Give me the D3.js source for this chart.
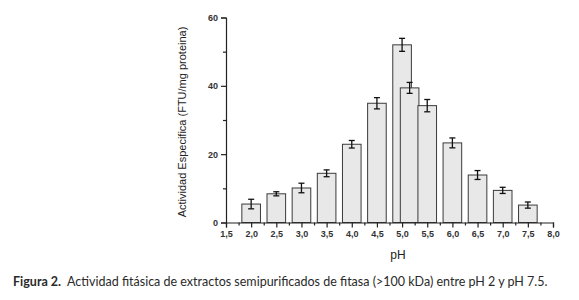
<!DOCTYPE html>
<html>
<head>
<meta charset="utf-8">
<script src="https://cdn.jsdelivr.net/npm/d3@7"></script>
<style>
  body { margin: 0; background: #fff; }
  svg { display: block; }
</style>
</head>
<body>
<div id="chart"></div>
<script>
// data
const phValues = [2.0, 2.5, 3.0, 3.5, 4.0, 4.5, 5.0, 5.15, 5.5, 6.0, 6.5, 7.0, 7.5]
const activity = [5.4, 8.4, 10.1, 14.4, 22.9, 34.9, 52.0, 39.4, 34.2, 23.3, 13.9, 9.4, 5.1]
const errors   = [1.4, 0.6, 1.4, 1.0, 1.1, 1.65, 1.9, 1.6, 1.8, 1.45, 1.3, 0.9, 0.9]
const xTicks = [1.5, 2.0, 2.5, 3.0, 3.5, 4.0, 4.5, 5.0, 5.5, 6.0, 6.5, 7.0, 7.5, 8.0]
const yTicks = [0, 20, 40, 60]
const yMinor = [10, 30, 50]

const dataset = phValues.map((p, i) => ({ ph: p, val: activity[i], err: errors[i] }))

let dims = {
    width: 579,
    height: 300,
    margin: { top: 17.5, right: 26, bottom: 77.5, left: 226 },
}
dims.boundedWidth = dims.width - dims.margin.left - dims.margin.right
dims.boundedHeight = dims.height - dims.margin.top - dims.margin.bottom

const xScale = d3.scaleLinear()
    .domain([1.5, 8.0])
    .range([0, dims.boundedWidth])

const yScale = d3.scaleLinear()
    .domain([0, 60])
    .range([dims.boundedHeight, 0])

const barW = xScale(1.5 + 0.37) - xScale(1.5)

const svg = d3.select("#chart")
    .append("svg")
    .attr("width", dims.width)
    .attr("height", dims.height)

const bounds = svg.append("g")
    .attr("transform", `translate(${dims.margin.left},${dims.margin.top})`)

// bars
bounds.selectAll("rect.bar")
    .data(dataset)
    .join("rect")
    .attr("class", "bar")
    .attr("x", d => xScale(d.ph) - barW / 2)
    .attr("y", d => yScale(d.val))
    .attr("width", barW)
    .attr("height", d => yScale(0) - yScale(d.val))
    .attr("fill", "#e8e8e8")
    .attr("stroke", "#3a3a3a")
    .attr("stroke-width", 1)

// error bars
const errG = bounds.selectAll("g.err")
    .data(dataset)
    .join("g")
    .attr("class", "err")
    .attr("stroke", "#111")
    .attr("stroke-width", 1.3)

errG.append("line")
    .attr("x1", d => xScale(d.ph)).attr("x2", d => xScale(d.ph))
    .attr("y1", d => yScale(d.val + d.err)).attr("y2", d => yScale(d.val - d.err))
errG.append("line")
    .attr("x1", d => xScale(d.ph) - 3).attr("x2", d => xScale(d.ph) + 3)
    .attr("y1", d => yScale(d.val + d.err)).attr("y2", d => yScale(d.val + d.err))
errG.append("line")
    .attr("x1", d => xScale(d.ph) - 3).attr("x2", d => xScale(d.ph) + 3)
    .attr("y1", d => yScale(d.val - d.err)).attr("y2", d => yScale(d.val - d.err))

// axes
const fmt = d => d.toFixed(1).replace(".", ",")

const xAxis = bounds.append("g")
    .attr("transform", `translate(0,${dims.boundedHeight})`)
    .call(d3.axisBottom(xScale).tickValues(xTicks).tickFormat(fmt).tickSize(5).tickPadding(3))
xAxis.append("g")
    .call(d3.axisBottom(xScale)
        .tickValues(xTicks.slice(0, -1).map(t => t + 0.25))
        .tickFormat("").tickSize(3))
    .select(".domain").remove()

const yAxis = bounds.append("g")
    .call(d3.axisLeft(yScale).tickValues(yTicks).tickSize(5).tickPadding(3))
yAxis.append("g")
    .call(d3.axisLeft(yScale).tickValues(yMinor).tickFormat("").tickSize(3))
    .select(".domain").remove()

svg.selectAll(".domain, .tick line")
    .attr("stroke", "#222")
    .attr("stroke-width", 1.2)
svg.selectAll(".tick text")
    .attr("font-family", "Liberation Sans, Arial, sans-serif")
    .attr("font-size", 9)
    .attr("font-weight", "bold")
    .attr("fill", "#333")

// axis titles
svg.append("text")
    .attr("transform", `translate(186,${dims.margin.top + dims.boundedHeight / 2 + 2}) rotate(-90)`)
    .attr("text-anchor", "middle")
    .attr("font-family", "Liberation Sans, Arial, sans-serif")
    .attr("font-size", 11)
    .attr("fill", "#222")
    .text("Actividad Especifica (FTU/mg proteina)")

svg.append("text")
    .attr("x", 398)
    .attr("y", 259)
    .attr("text-anchor", "middle")
    .attr("font-family", "Liberation Sans, Arial, sans-serif")
    .attr("font-size", 12)
    .attr("fill", "#222")
    .text("pH")

// caption
const cap = svg.append("text")
    .attr("x", 13)
    .attr("y", 285.5)
    .attr("font-family", "Lato, Open Sans, sans-serif")
    .attr("font-size", 12.5)
    .attr("fill", "#2a2a2a")
cap.append("tspan").attr("font-weight", "bold").text("Figura 2.")
cap.append("tspan").text("\u00a0 Actividad fitásica de extractos semipurificados de fitasa (>100 kDa) entre pH 2 y pH 7.5.")
</script>
</body>
</html>
